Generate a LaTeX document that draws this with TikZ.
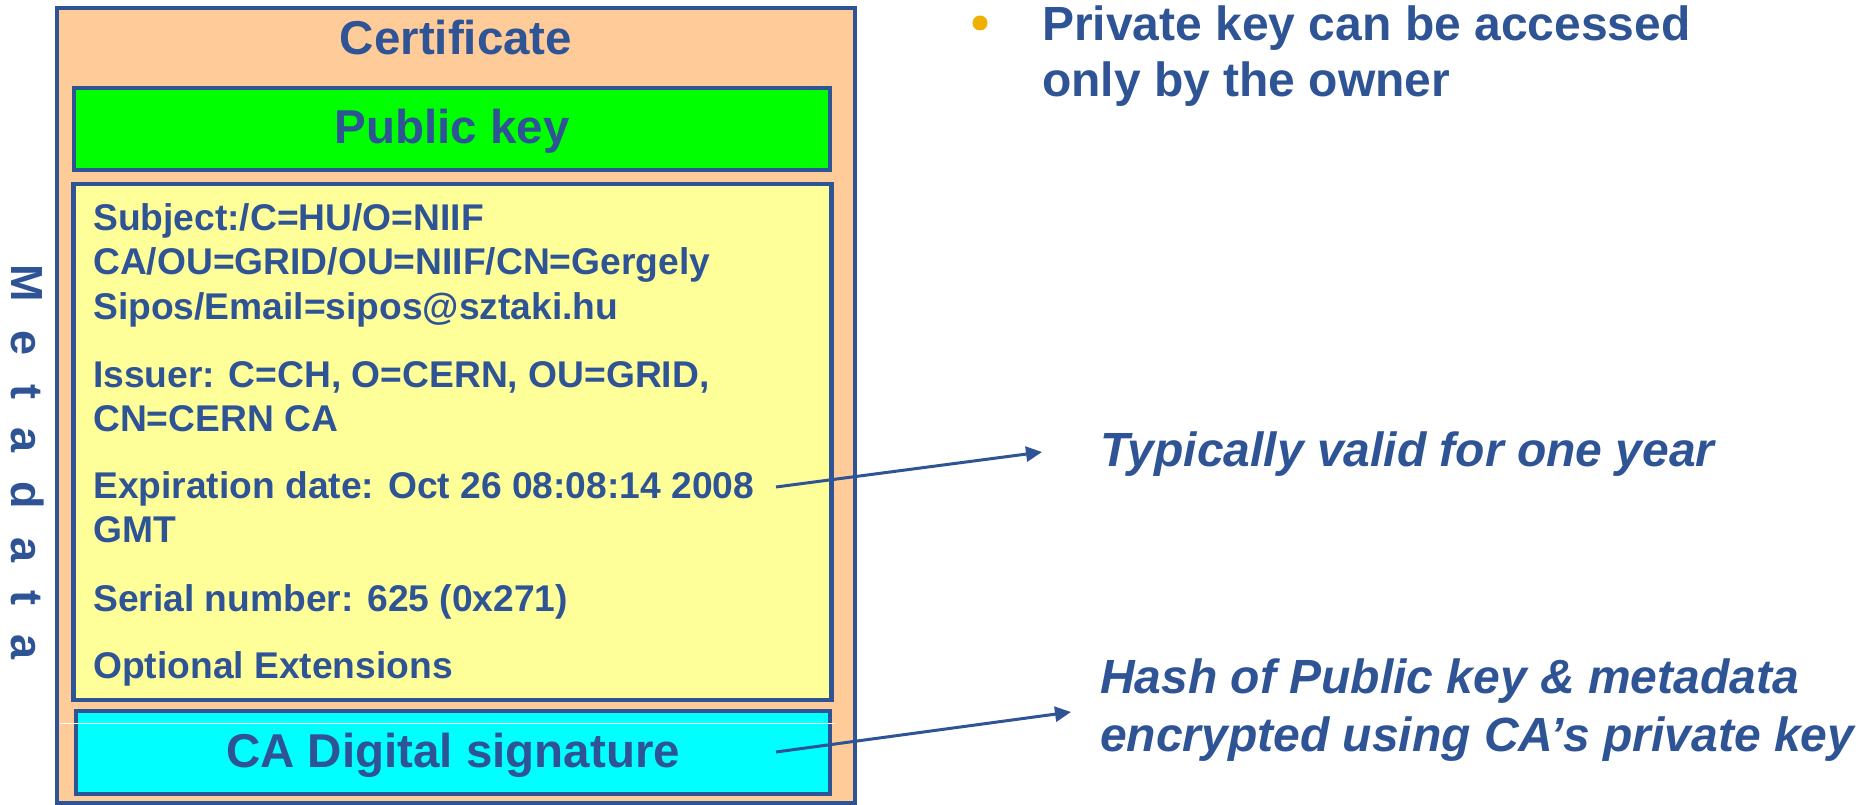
\documentclass[tikz,border=0pt]{standalone}
\usepackage{fontspec}
\setmainfont{Liberation Sans}
\usetikzlibrary{arrows.meta}

\definecolor{certblue}{RGB}{47,84,150}
\definecolor{certorange}{RGB}{255,204,153}
\definecolor{keygreen}{RGB}{0,255,0}
\definecolor{metayellow}{RGB}{255,255,153}
\definecolor{sigcyan}{RGB}{0,255,255}
\definecolor{bulletgold}{RGB}{240,176,0}

\tikzset{
  panel/.style={draw=certblue, line width=4.5pt},
  heading/.style={font=\fontsize{47.5}{56}\selectfont\bfseries, text=certblue, inner sep=0pt, anchor=base},
  field/.style={font=\fontsize{37.2}{44}\selectfont\bfseries, text=certblue, inner sep=0pt, anchor=base west},
  remark/.style={font=\fontsize{48}{56}\selectfont\bfseries\itshape, text=certblue, inner sep=0pt, anchor=base west},
  bullettext/.style={font=\fontsize{48}{56}\selectfont\bfseries, text=certblue, inner sep=0pt, anchor=base west},
  pointer/.style={draw=certblue, line width=3pt, -{Triangle[length=16pt,width=15pt]}},
}

\begin{document}
\begin{tikzpicture}[x=1pt,y=-1pt]
\useasboundingbox (0,0) rectangle (1872,805);

% certificate frame
\draw[panel, fill=certorange] (57,8) rectangle (855,803);
\node[heading] (cert) at (456,55) {Certificate};

% public key block
\draw[panel, fill=keygreen] (74,88) rectangle (830,170);
\node[heading] (pubkey) at (452,144) {Public key};

% metadata block
\draw[panel, fill=metayellow] (73.5,184) rectangle (831.5,700);
\node[field] (subj1) at (93,231) {Subject:/C=HU/O=NIIF};
\node[field] (subj2) at (93,275) {CA/OU=GRID/OU=NIIF/CN=Gergely};
\node[field] (subj3) at (93,319) {Sipos/Email=sipos@sztaki.hu};
\node[field] (iss1) at (93,387) {Issuer: C=CH, O=CERN, OU=GRID,};
\node[field] (iss2) at (93,431) {CN=CERN CA};
\node[field] (exp1) at (93,498) {Expiration date: Oct 26 08:08:14 2008};
\node[field] (exp2) at (93,542) {GMT};
\node[field] (serial) at (93,611) {Serial number: 625 (0x271)};
\node[field] (optext) at (93,678) {Optional Extensions};

% signature block
\draw[panel, fill=sigcyan] (76,711) rectangle (830,794);
\draw[white, line width=1pt] (60,723) -- (835,723);
\node[heading] (sig) at (453,767) {CA Digital signature};

% vertical label beside the frame
\node[font=\fontsize{45}{45}\selectfont\bfseries, text=certblue, inner sep=0pt, rotate=-90]
  (meta) at (28,462) {M\kern28.5pt e\kern28.5pt t\kern28.5pt a\kern28.5pt d\kern28.5pt a\kern28.5pt t\kern28.5pt a};

% bullet point
\node[circle, fill=bulletgold, minimum size=15pt, inner sep=0pt] (bullet) at (980,23) {};
\node[bullettext] (priv1) at (1042,41) {Private key can be accessed};
\node[bullettext] (priv2) at (1042,97) {only by the owner};

% annotations
\node[remark] (valid) at (1100,466) {Typically valid for one year};
\node[remark] (hash1) at (1100,693) {Hash of Public key \& metadata};
\node[remark] (hash2) at (1100,751) {encrypted using CA’s private key};

\coordinate (expEnd) at (776,487);
\coordinate (validTip) at (1042,452);
\coordinate (sigEnd) at (776,752);
\coordinate (hashTip) at (1071,712);
\draw[pointer] (expEnd) -- (validTip);
\draw[pointer] (sigEnd) -- (hashTip);
\end{tikzpicture}
\end{document}
